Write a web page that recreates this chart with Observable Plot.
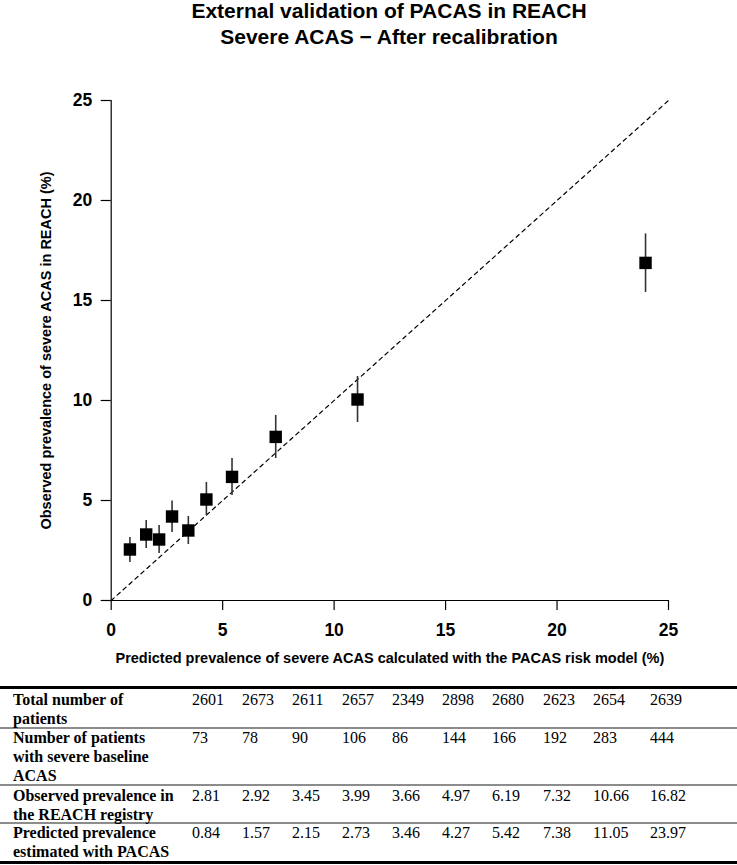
<!DOCTYPE html>
<html>
<head>
<meta charset="utf-8">
<script src="https://cdn.jsdelivr.net/npm/d3@7"></script>
<script src="https://cdn.jsdelivr.net/npm/@observablehq/plot@0.6"></script>
<style>
  html, body { margin: 0; padding: 0; background: #fff; }
  body { width: 737px; height: 865px; position: relative; overflow: hidden; color: #000; }
  #title { position: absolute; left: 0; top: 0; width: 778px; text-align: center;
           font-family: "Liberation Sans", Arial, sans-serif; font-weight: bold; font-size: 21px; line-height: 21px; }
  #title div + div { margin-top: 5px; }
  #chart { position: absolute; left: 0; top: 0; }
  .cell { position: absolute; font-family: "Liberation Serif", "Times New Roman", serif; font-size: 16px;
          line-height: 19px; white-space: pre-line; }
  .lbl { font-weight: bold; }
  .hline { position: absolute; left: 0; width: 737px; }
</style>
</head>
<body>
<div id="chart"></div>
<div id="title"></div>
<div id="table"></div>
<script>
// ---------- data ----------
const titleLines = ["External validation of PACAS in REACH", "Severe ACAS \u2212 After recalibration"];
const xLabel = "Predicted prevalence of severe ACAS calculated with the PACAS risk model (%)";
const yLabel = "Observed prevalence of severe ACAS in REACH (%)";
const axisTicks = [0, 5, 10, 15, 20, 25];
const diagonal = [0, 25];

// plotted points (x = predicted, y = observed, with CI)
const predicted = [0.84, 1.57, 2.15, 2.73, 3.46, 4.27, 5.42, 7.38, 11.05, 23.97];
const observedPlot = [2.55, 3.3, 3.05, 4.2, 3.5, 5.05, 6.18, 8.18, 10.05, 16.88];
const ciLow = [1.9, 2.6, 2.35, 3.4, 2.8, 4.25, 5.25, 7.1, 8.9, 15.4];
const ciHigh = [3.15, 4.0, 3.75, 4.97, 4.2, 5.9, 7.1, 9.25, 11.2, 18.33];

// table
const rowLabels = [
  "Total number of\npatients",
  "Number of patients\nwith severe baseline\nACAS",
  "Observed prevalence in\nthe REACH registry",
  "Predicted prevalence\nestimated with PACAS"
];
const totalPatients = ["2601", "2673", "2611", "2657", "2349", "2898", "2680", "2623", "2654", "2639"];
const severePatients = ["73", "78", "90", "106", "86", "144", "166", "192", "283", "444"];
const observedTable = ["2.81", "2.92", "3.45", "3.99", "3.66", "4.97", "6.19", "7.32", "10.66", "16.82"];
const predictedTable = ["0.84", "1.57", "2.15", "2.73", "3.46", "4.27", "5.42", "7.38", "11.05", "23.97"];

// ---------- layout ----------
const colLeft = [192, 242, 292, 342, 392, 442, 492, 543, 593, 650];
const rowTop = [690, 728.4, 785.8, 823.4];
const lines = [
  {top: 685.5, h: 3, c: "#000"},
  {top: 727, h: 1.5, c: "#8c8c8c"},
  {top: 784.3, h: 1.5, c: "#8c8c8c"},
  {top: 822, h: 1.5, c: "#8c8c8c"},
  {top: 860.5, h: 3, c: "#000"}
];

document.getElementById("title").innerHTML = titleLines.map(t => `<div>${t}</div>`).join("");

const idx = d3.range(predicted.length);
const sans = "'Liberation Sans', Arial, sans-serif";

const chart = Plot.plot({
  width: 737,
  height: 680,
  marginLeft: 110.7,
  marginRight: 69,
  marginTop: 100,
  marginBottom: 80,
  x: {domain: [0, 25]},
  y: {domain: [0, 25]},
  style: {fontFamily: sans, background: "transparent", color: "#000", overflow: "visible"},
  marks: [
    Plot.axisX({ticks: axisTicks, tickSize: 10, tickPadding: 13, fontSize: 17.5, fontWeight: "bold", label: null, strokeWidth: 1.2}),
    Plot.axisY({ticks: axisTicks, tickSize: 10, tickPadding: 9, fontSize: 17.5, fontWeight: "bold", label: null, strokeWidth: 1.2}),
    Plot.ruleY([0], {strokeWidth: 1.2}),
    Plot.ruleX([0], {strokeWidth: 1.2}),
    Plot.line(diagonal, {x: d => d, y: d => d, stroke: "#000", strokeWidth: 1.2, strokeDasharray: "4,4"}),
    Plot.ruleX(idx, {x: i => predicted[i], y1: i => ciLow[i], y2: i => ciHigh[i], stroke: "#333", strokeWidth: 1.6}),
    Plot.dot(idx, {x: i => predicted[i], y: i => observedPlot[i], symbol: "square", r: 7, fill: "#000", stroke: "none"}),
    Plot.text([xLabel], {frameAnchor: "bottom", dy: 62, fontSize: 14.5, fontWeight: "bold", fill: "#000"}),
    Plot.text([yLabel], {frameAnchor: "left", dx: -65, rotate: -90, textAnchor: "middle", fontSize: 14.5, fontWeight: "bold", fill: "#000"})
  ]
});
document.getElementById("chart").appendChild(chart);

// table
const tableEl = document.getElementById("table");
let html = "";
lines.forEach(l => { html += `<div class="hline" style="top:${l.top}px;height:${l.h}px;background:${l.c}"></div>`; });
const rows = [totalPatients, severePatients, observedTable, predictedTable];
rows.forEach((vals, r) => {
  html += `<div class="cell lbl" style="left:13px;top:${rowTop[r]}px">${rowLabels[r]}</div>`;
  vals.forEach((v, c) => {
    html += `<div class="cell" style="left:${colLeft[c]}px;top:${rowTop[r]}px">${v}</div>`;
  });
});
tableEl.innerHTML = html;
</script>
</body>
</html>
